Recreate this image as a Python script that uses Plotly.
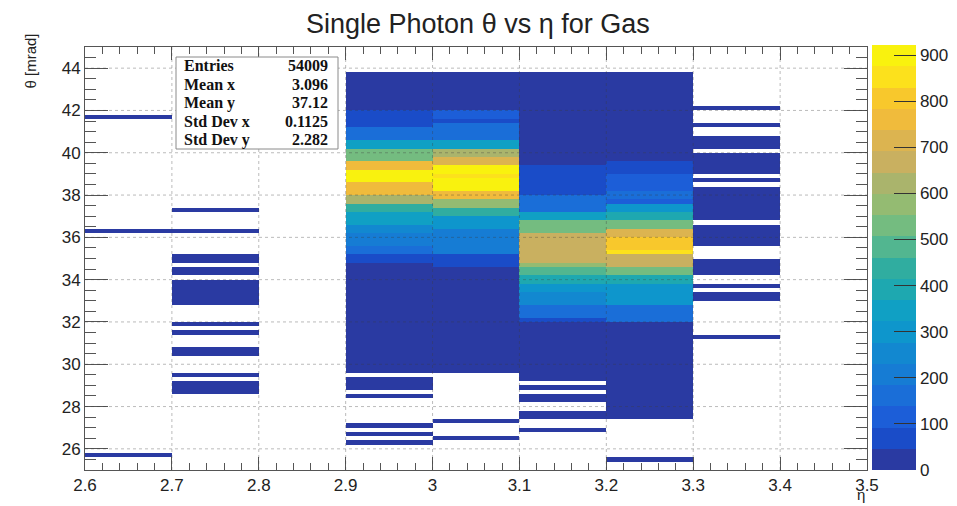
import numpy as np
import plotly.graph_objects as go

# ---- histogram definition -------------------------------------------------
eta_edges = [2.6, 2.7, 2.8, 2.9, 3.0, 3.1, 3.2, 3.3, 3.4, 3.5]
theta_lo, theta_hi, theta_bin = 25.0, 45.0, 0.2

# filled theta ranges per eta column: (theta_low, theta_high, counts per bin)
col_260 = [(41.6, 41.8, 4), (36.2, 36.4, 4), (25.6, 25.8, 3)]
col_270 = [(37.2, 37.4, 3), (36.2, 36.4, 4), (34.8, 35.2, 5), (34.2, 34.6, 5),
           (32.8, 34.0, 6), (31.8, 32.0, 4), (31.4, 31.6, 4), (30.4, 30.8, 5),
           (29.4, 29.6, 4), (28.6, 29.2, 5)]
col_280 = []
col_290 = [(42.0, 43.8, 25), (41.2, 42.0, 75), (40.6, 41.2, 140), (40.2, 40.6, 340),
           (39.6, 40.2, 530), (39.2, 39.6, 760), (38.6, 39.2, 905), (38.0, 38.6, 760),
           (37.6, 38.0, 620), (37.2, 37.6, 450), (36.6, 37.2, 350), (36.2, 36.6, 240),
           (35.6, 36.2, 190), (35.2, 35.6, 160), (34.8, 35.2, 80), (29.6, 34.8, 25),
           (28.8, 29.4, 8), (28.4, 28.6, 5), (27.0, 27.2, 4), (26.6, 26.8, 4),
           (26.2, 26.4, 4)]
col_300 = [(42.0, 43.8, 25), (41.6, 42.0, 100), (41.4, 41.6, 70), (40.6, 41.4, 150),
           (40.2, 40.6, 350), (39.8, 40.2, 610), (39.4, 39.8, 720), (39.0, 39.4, 900),
           (38.8, 39.0, 850), (38.2, 38.8, 915), (37.8, 38.2, 770), (37.4, 37.8, 580),
           (37.0, 37.4, 440), (36.4, 37.0, 310), (35.2, 36.4, 200), (34.6, 35.2, 75),
           (29.6, 34.6, 25), (27.2, 27.4, 4), (26.4, 26.6, 4)]
col_310 = [(39.4, 43.8, 25), (38.0, 39.4, 80), (37.2, 38.0, 160), (36.8, 37.2, 350),
           (36.2, 36.8, 530), (35.8, 36.2, 680), (34.8, 35.8, 665), (34.6, 34.8, 570),
           (34.2, 34.6, 500), (33.8, 34.2, 400), (33.4, 33.8, 310), (32.8, 33.4, 240),
           (32.2, 32.8, 150), (32.0, 32.2, 70), (29.2, 32.0, 25), (28.8, 29.0, 5),
           (28.2, 28.6, 5), (27.4, 27.8, 5), (26.8, 27.0, 4)]
col_320 = [(39.6, 43.8, 25), (39.2, 39.6, 90), (39.0, 39.2, 60), (38.2, 39.0, 95),
           (37.8, 38.2, 160), (37.6, 37.8, 110), (37.2, 37.6, 290), (36.8, 37.2, 400),
           (36.4, 36.8, 530), (36.0, 36.4, 720), (35.4, 36.0, 810), (35.2, 35.4, 860),
           (34.6, 35.2, 690), (34.2, 34.6, 530), (33.8, 34.2, 410), (32.8, 33.8, 290),
           (32.0, 32.8, 140), (27.4, 32.0, 25), (25.4, 25.6, 4)]
col_330 = [(42.0, 42.2, 5), (41.2, 41.4, 5), (40.2, 40.8, 6), (39.0, 40.0, 8),
           (38.6, 38.8, 5), (36.8, 38.4, 8), (35.6, 36.6, 8), (34.2, 35.0, 7),
           (33.6, 33.8, 5), (33.0, 33.4, 5), (31.2, 31.4, 4)]
col_340 = []
columns = [col_260, col_270, col_280, col_290, col_300, col_310, col_320, col_330, col_340]

stats_labels = ["Entries", "Mean x", "Mean y", "Std Dev x", "Std Dev y"]
stats_values = ["54009", "3.096", "37.12", "0.1125", "2.282"]

z_max = 922
n_levels = 20
level_colors = ["#2a3aa2", "#1a4cc8", "#1c5ed8", "#1a6ed8", "#167cd4",
                "#1288d0", "#0e96cc", "#10a0c4", "#1ea8b0", "#30ada0",
                "#52b690", "#74bc80", "#94bb72", "#aab46c", "#c9b060",
                "#dcb450", "#f0bb3c", "#f8c82c", "#fce11c", "#f9f20e"]
cbar_ticks = [0, 100, 200, 300, 400, 500, 600, 700, 800, 900]

# ---- build the 2D content array ------------------------------------------
theta_edges = np.round(np.arange(theta_lo, theta_hi + 1e-9, theta_bin), 2)
theta_centers = 0.5 * (theta_edges[:-1] + theta_edges[1:])
z = np.full((len(theta_centers), len(eta_edges) - 1), np.nan)
for j, runs in enumerate(columns):
    for lo, hi, cnt in runs:
        sel = (theta_centers > lo) & (theta_centers < hi)
        z[sel, j] = cnt

# stepped colour scale: one flat colour per contour level
colorscale = []
for i, c in enumerate(level_colors):
    colorscale.append([i / n_levels, c])
    colorscale.append([(i + 1) / n_levels, c])

# ---- page geometry ---------------------------------------------------------
W, H = 957, 506
L, R, T, B = 85, 867, 47, 470


def fx(px):
    return (px - L) / (R - L)


def fy(py):
    return (B - py) / (B - T)


fig = go.Figure()
fig.add_trace(go.Heatmap(
    x=eta_edges, y=theta_edges, z=z,
    zmin=0, zmax=z_max, colorscale=colorscale, zsmooth=False,
    hoverongaps=False,
    colorbar=dict(
        x=fx(872), xanchor="left", xref="paper", xpad=0,
        y=fy(257.5), yanchor="middle", ypad=0,
        lenmode="pixels", len=425, thickness=44,
        outlinewidth=0,
        tickmode="array", tickvals=cbar_ticks,
        ticks="inside", ticklen=22, tickcolor="#333", tickwidth=1,
        tickfont=dict(family="Liberation Sans, Arial, sans-serif", size=17, color="#222"),
    ),
))

axis_font = dict(family="Liberation Sans, Arial, sans-serif", size=17, color="#222")

fig.update_xaxes(
    range=[2.6, 3.5], tickmode="linear", tick0=2.6, dtick=0.1,
    ticks="inside", ticklen=13, tickcolor="#555", tickwidth=1,
    minor=dict(ticks="inside", ticklen=7, dtick=0.02, tick0=2.6, tickcolor="#555",
               tickwidth=1, showgrid=False),
    showline=True, linecolor="#555", linewidth=1, mirror="allticks",
    showgrid=False, zeroline=False, tickfont=axis_font,
    tickformat="~g", layer="above traces", ticklabelstandoff=0,
)
fig.update_yaxes(
    range=[25, 45], tickmode="linear", tick0=26, dtick=2,
    ticks="inside", ticklen=23, tickcolor="#555", tickwidth=1,
    minor=dict(ticks="inside", ticklen=11, dtick=0.5, tick0=25, tickcolor="#555",
               tickwidth=1, showgrid=False),
    showline=True, linecolor="#555", linewidth=1, mirror="allticks",
    showgrid=False, zeroline=False, tickfont=axis_font, layer="above traces",
)

# dotted grid drawn over the cells at every major tick
shapes = []
for v in eta_edges[1:-1]:
    shapes.append(dict(type="line", xref="x", yref="paper", x0=v, x1=v, y0=0, y1=1,
                       line=dict(color="rgba(60,60,60,0.35)", width=1, dash="dot"),
                       layer="above"))
for v in range(26, 45, 2):
    shapes.append(dict(type="line", xref="paper", yref="y", x0=0, x1=1, y0=v, y1=v,
                       line=dict(color="rgba(60,60,60,0.35)", width=1, dash="dot"),
                       layer="above"))

# statistics box
shapes.append(dict(type="rect", xref="paper", yref="paper",
                   x0=fx(176), x1=fx(338), y0=fy(149), y1=fy(57),
                   fillcolor="white", line=dict(color="#8a8a8a", width=1), layer="above"))
fig.update_layout(shapes=shapes)

annotations = []
stats_font = dict(family="Liberation Serif, Times New Roman, serif", size=16, color="#111")
row_y = [65.7, 84.3, 102.8, 121.5, 139.5]
for lab, val, py in zip(stats_labels, stats_values, row_y):
    annotations.append(dict(text="<b>%s</b>" % lab, xref="paper", yref="paper",
                            x=fx(182), y=fy(py), xanchor="left", yanchor="middle",
                            showarrow=False, font=stats_font))
    annotations.append(dict(text="<b>%s</b>" % val, xref="paper", yref="paper",
                            x=fx(330), y=fy(py), xanchor="right", yanchor="middle",
                            showarrow=False, font=stats_font))

annotations.append(dict(text="Single Photon \u03b8 vs \u03b7 for Gas", xref="paper", yref="paper",
                        x=fx(478), y=fy(24), xanchor="center", yanchor="middle",
                        showarrow=False,
                        font=dict(family="Liberation Sans, Arial, sans-serif", size=27, color="#222")))
annotations.append(dict(text="\u03b8 [mrad]", xref="paper", yref="paper",
                        x=fx(30), y=fy(32), xanchor="center", yanchor="top", textangle=-90,
                        showarrow=False,
                        font=dict(family="Liberation Sans, Arial, sans-serif", size=15, color="#222")))
annotations.append(dict(text="\u03b7", xref="paper", yref="paper",
                        x=fx(867), y=fy(494), xanchor="right", yanchor="middle",
                        showarrow=False,
                        font=dict(family="Liberation Sans, Arial, sans-serif", size=15, color="#222")))
fig.update_layout(annotations=annotations)

fig.update_layout(
    width=W, height=H,
    margin=dict(l=L, r=W - R, t=T, b=H - B, pad=0, autoexpand=False),
    paper_bgcolor="white", plot_bgcolor="white",
    showlegend=False,
)

fig.write_html("out.html")
